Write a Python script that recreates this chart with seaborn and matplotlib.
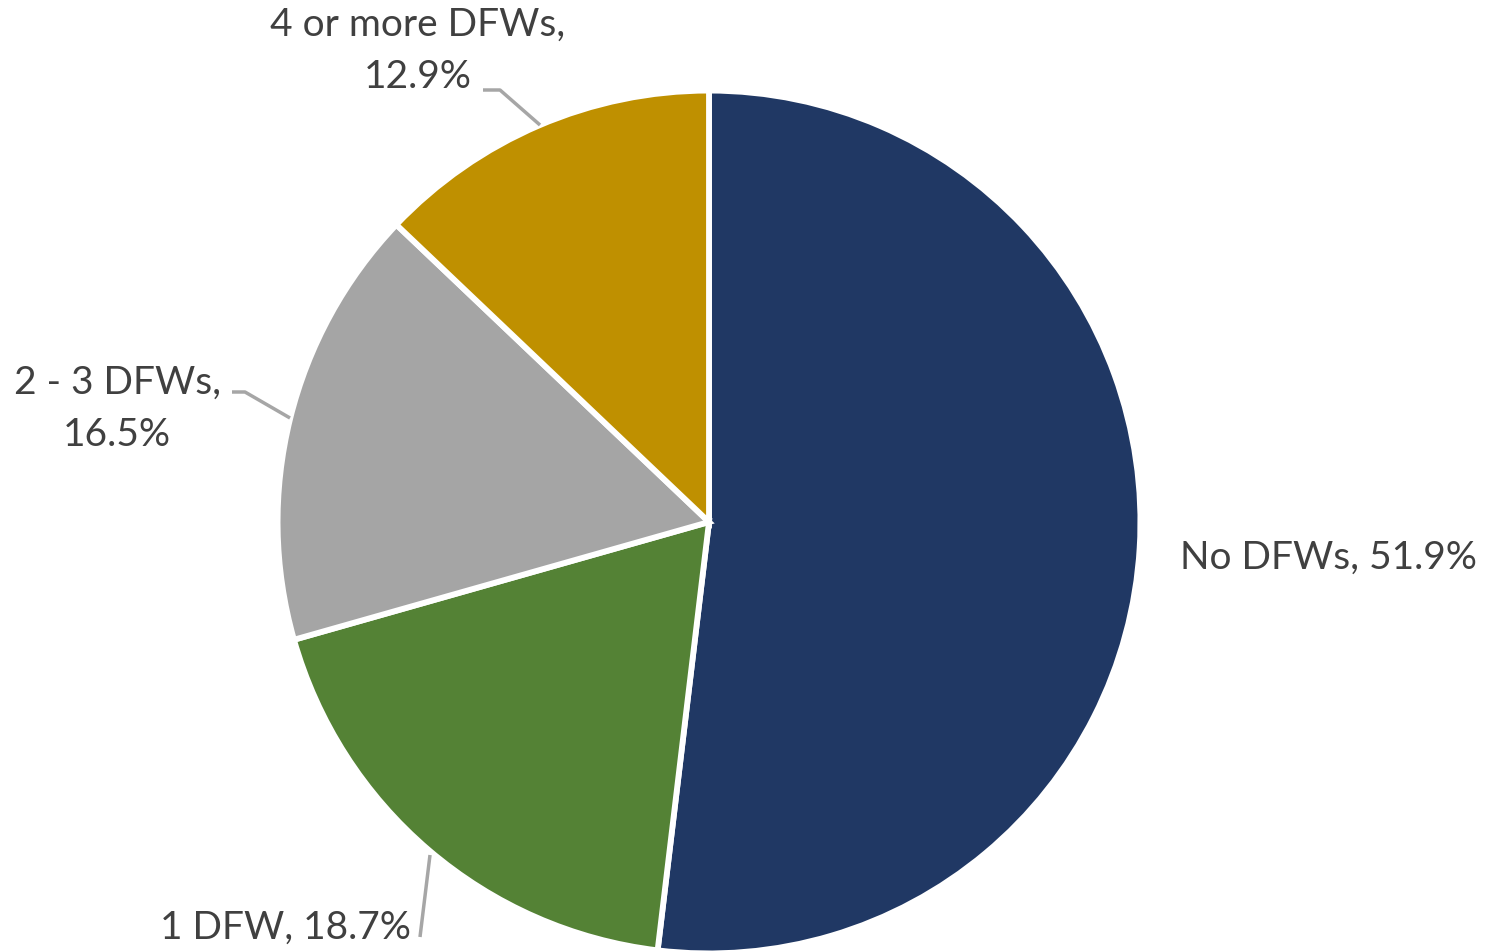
import matplotlib
matplotlib.use('Agg')
import matplotlib.pyplot as plt
import seaborn as sns

sns.set_theme(style='white')
plt.rcParams['font.family'] = ['Lato', 'DejaVu Sans']

# data
categories = ['No DFWs', '1 DFW', '2 - 3 DFWs', '4 or more DFWs']
shares = [51.9, 18.7, 16.5, 12.9]
colors = ['#203864', '#548235', '#A5A5A5', '#BF9000']

W, H = 1495, 951
fig = plt.figure(figsize=(W / 100, H / 100), dpi=100)
fig.patch.set_facecolor('white')

# place pie: centre (709, 522) px from top-left, radius 428 px
cx, cy, r = 709, 522, 428
ax = fig.add_axes([(cx - r) / W, (H - cy - r) / H, 2 * r / W, 2 * r / H])
ax.pie(shares, colors=colors, startangle=90, counterclock=False, radius=1.008,
       wedgeprops=dict(edgecolor='white', linewidth=4.2))
ax.set_xlim(-1, 1)
ax.set_ylim(-1, 1)
ax.set_aspect('equal')
ax.axis('off')

def px(x, y):
    return (x - cx) / r, (cy - y) / r

txt = dict(color='#404040', fontsize=28, clip_on=False)
lbl = [f'{c}, {v:.1f}%' for c, v in zip(categories, shares)]

ax.text(*px(1180, 558), lbl[0], ha='left', va='center', **txt)
ax.text(*px(411, 928), lbl[1], ha='right', va='center', **txt)
ax.text(*px(117, 409), lbl[2].replace(', ', ',\n'), ha='center', va='center',
        linespacing=1.58, **txt)
ax.text(*px(418, 51), lbl[3].replace(', ', ',\n'), ha='center', va='center',
        linespacing=1.58, **txt)

# leader lines
leaders = [
    [(483, 90), (500, 90), (540, 125)],
    [(232, 392), (245, 392), (290, 418)],
    [(420, 937), (430, 855)],
]
for pts in leaders:
    xs, ys = zip(*[px(*p) for p in pts])
    ax.plot(xs, ys, color='#A6A6A6', lw=2.5, clip_on=False,
            solid_capstyle='butt')

fig.savefig('out.png', dpi=100, facecolor='white')
